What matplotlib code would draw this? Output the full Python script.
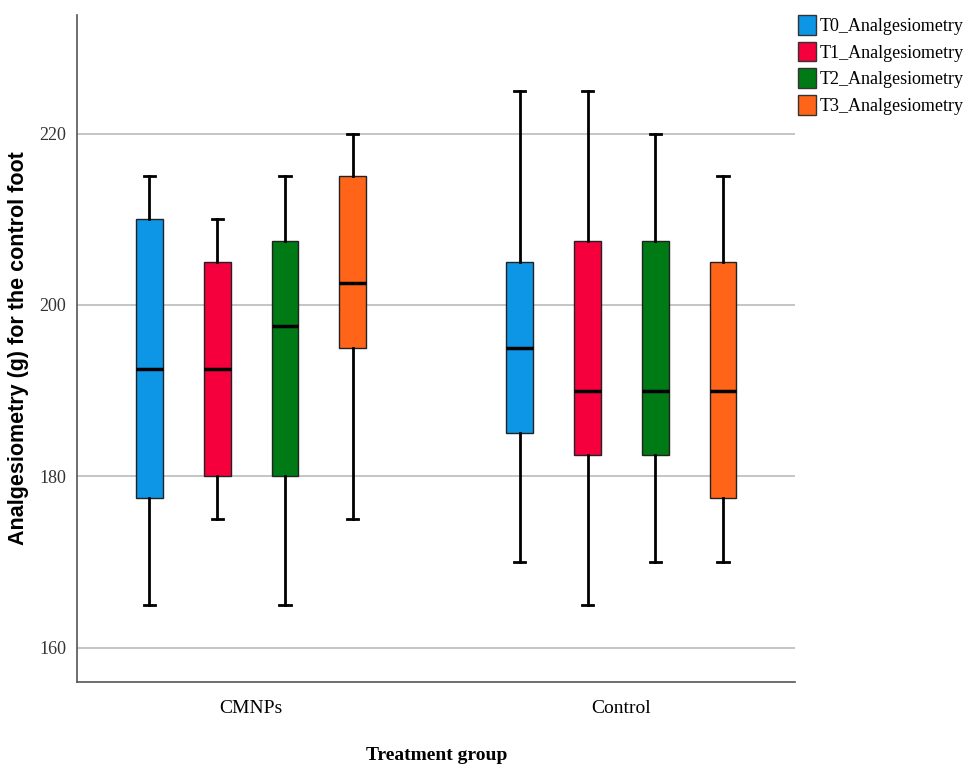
import matplotlib.pyplot as plt
from matplotlib.patches import Patch

groups = ['CMNPs', 'Control']
series = ['T0_Analgesiometry', 'T1_Analgesiometry', 'T2_Analgesiometry', 'T3_Analgesiometry']
colors = ['#0d96e6', '#f5003c', '#007a14', '#ff6419']

# per group, per timepoint: whisker low, Q1, median, Q3, whisker high
whislo = [[165, 175, 165, 175], [170, 165, 170, 170]]
q1 = [[177.5, 180, 180, 195], [185, 182.5, 182.5, 177.5]]
med = [[192.5, 192.5, 197.5, 202.5], [195, 190, 190, 190]]
q3 = [[210, 205, 207.5, 215], [205, 207.5, 207.5, 205]]
whishi = [[215, 210, 215, 220], [225, 225, 220, 215]]

fig = plt.figure(figsize=(9.76, 7.67), dpi=100)
ax = fig.add_axes([0.079, 0.111, 0.736, 0.869])

offsets = [-1.5, -0.5, 0.5, 1.5]
step = 0.183
for g in range(len(groups)):
    for s in range(len(series)):
        st = [dict(whislo=whislo[g][s], q1=q1[g][s], med=med[g][s],
                   q3=q3[g][s], whishi=whishi[g][s], fliers=[])]
        ax.bxp(st, positions=[g + offsets[s] * step], widths=0.072,
               patch_artist=True, showfliers=False,
               boxprops=dict(facecolor=colors[s], edgecolor='#222222', linewidth=1),
               medianprops=dict(color='black', linewidth=2.5),
               whiskerprops=dict(color='black', linewidth=2),
               capprops=dict(color='black', linewidth=2),
               capwidths=0.03)

ax.set_xlim(-0.47, 1.47)
ax.set_ylim(156, 233.8)
ax.set_xticks([0, 1])
ax.set_xticklabels(groups, fontfamily='Liberation Serif', fontsize=14)
ax.set_yticks([160, 180, 200, 220])
ax.set_yticklabels(['160', '180', '200', '220'], fontfamily='Liberation Serif', fontsize=13, color='#333333')
ax.tick_params(length=0, pad=8)
ax.tick_params(axis='x', pad=13)
ax.yaxis.grid(True, color='#c0c0c0', linewidth=1.3)
ax.set_axisbelow(True)
for sp in ['top', 'right']:
    ax.spines[sp].set_visible(False)
for sp in ['left', 'bottom']:
    ax.spines[sp].set_color('#555555')
    ax.spines[sp].set_linewidth(1.2)

ax.set_ylabel('Analgesiometry (g) for the control foot', fontfamily='Liberation Sans',
              fontweight='bold', fontsize=15.5, labelpad=7)
ax.set_xlabel('Treatment group', fontfamily='Liberation Serif', fontweight='bold',
              fontsize=14, labelpad=22)

handles = [Patch(facecolor=c, edgecolor='#333333', label=l) for c, l in zip(colors, series)]
fig.legend(handles=handles, loc='upper left', bbox_to_anchor=(0.81, 0.99),
           frameon=False, prop={'family': 'Liberation Serif', 'size': 13},
           handlelength=1.0, handleheight=1.3, handletextpad=0.2, labelspacing=0.38,
           borderaxespad=0)

fig.savefig('out.png', dpi=100)
